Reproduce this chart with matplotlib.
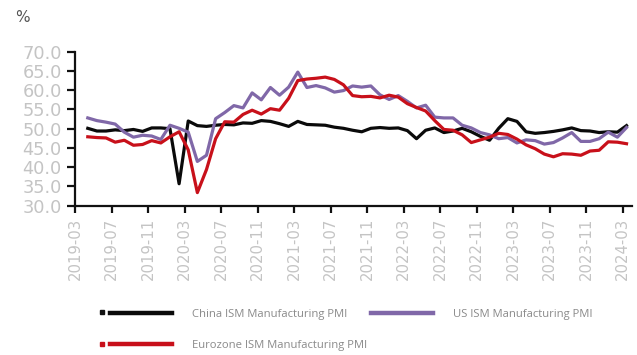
import matplotlib
matplotlib.use("Agg")
import matplotlib.pyplot as plt
import numpy as np
from matplotlib.lines import Line2D

# Months from 2019-04 to 2024-03
months = [f"{y}-{m:02d}" for y in range(2019, 2025) for m in range(1, 13)]
months = months[months.index("2019-04"):months.index("2024-03") + 1]

tick_labels = ["2019-03", "2019-07", "2019-11", "2020-03", "2020-07", "2020-11",
               "2021-03", "2021-07", "2021-11", "2022-03", "2022-07", "2022-11",
               "2023-03", "2023-07", "2023-11", "2024-03"]

china = [50.1, 49.4, 49.4, 49.7, 49.5, 49.8, 49.3, 50.2, 50.2,
         50.0, 35.7, 52.0, 50.8, 50.6, 50.9, 51.1, 51.0, 51.5, 51.4, 52.1, 51.9,
         51.3, 50.6, 51.9, 51.1, 51.0, 50.9, 50.4, 50.1, 49.6, 49.2, 50.1, 50.3,
         50.1, 50.2, 49.5, 47.4, 49.6, 50.2, 49.0, 49.4, 50.1, 49.2, 48.0, 47.0,
         50.1, 52.6, 51.9, 49.2, 48.8, 49.0, 49.3, 49.7, 50.2, 49.5, 49.4, 49.0,
         49.2, 49.1, 50.8]

us = [52.8, 52.1, 51.7, 51.2, 49.1, 47.8, 48.3, 48.1, 47.2,
      50.9, 50.1, 49.1, 41.5, 43.1, 52.6, 54.2, 56.0, 55.4, 59.3, 57.5, 60.7,
      58.7, 60.8, 64.7, 60.7, 61.2, 60.6, 59.5, 59.9, 61.1, 60.8, 61.1, 58.8,
      57.6, 58.6, 57.1, 55.4, 56.1, 53.0, 52.8, 52.8, 50.9, 50.2, 49.0, 48.4,
      47.4, 47.7, 46.3, 47.1, 46.9, 46.0, 46.4, 47.6, 49.0, 46.7, 46.7, 47.4,
      49.1, 47.8, 50.3]

euro = [47.9, 47.7, 47.6, 46.5, 47.0, 45.7, 45.9, 46.9, 46.3,
        47.9, 49.2, 44.5, 33.4, 39.4, 47.4, 51.8, 51.7, 53.7, 54.8, 53.8, 55.2,
        54.8, 57.9, 62.5, 62.9, 63.1, 63.4, 62.8, 61.4, 58.6, 58.3, 58.4, 58.0,
        58.7, 58.2, 56.5, 55.5, 54.6, 52.1, 49.8, 49.6, 48.4, 46.4, 47.1, 47.8,
        48.8, 48.5, 47.3, 45.8, 44.8, 43.4, 42.7, 43.5, 43.4, 43.1, 44.2, 44.4,
        46.6, 46.5, 46.1]

series_names = ["China ISM Manufacturing PMI", "US ISM Manufacturing PMI",
                "Eurozone ISM Manufacturing PMI"]

W, H = 637, 355
fig = plt.figure(figsize=(W / 100, H / 100), dpi=100)
ax_l, ax_r, ax_t, ax_b = 75, 632, 51.7, 205.7
ax = fig.add_axes([ax_l / W, 1 - ax_b / H, (ax_r - ax_l) / W, (ax_b - ax_t) / H])

x = np.arange(1, len(months) + 1) + 0.4
lc, = ax.plot(x, china, color="#0a0a0a", lw=2.3, solid_joinstyle="round")
lu, = ax.plot(x, us, color="#8068a8", lw=2.3, solid_joinstyle="round")
le, = ax.plot(x, euro, color="#c8101a", lw=2.3, solid_joinstyle="round")

ax.set_xlim(0, 61.0)
ax.set_ylim(30, 70)
ax.set_yticks(np.arange(30, 70.1, 5))
ax.set_yticklabels([f"{v:.1f}" for v in np.arange(30, 70.1, 5)])
ax.set_xticks(np.arange(0, 61, 4))
ax.set_xticklabels(tick_labels, rotation=90)

for s in ["top", "right"]:
    ax.spines[s].set_visible(False)
for s in ["left", "bottom"]:
    ax.spines[s].set_linewidth(1.6)
    ax.spines[s].set_color("#111111")

ax.tick_params(axis="y", direction="out", length=6, width=1.6, pad=3.5,
               labelsize=12.8, labelcolor="#c4c4c4", color="#111111")
ax.tick_params(axis="x", direction="out", length=5, width=1.6, pad=3.5,
               labelsize=10.7, labelcolor="#c4c4c4", color="#111111")

fig.text(22 / W, 1 - 17 / H, "%", fontsize=11, color="#555555",
         ha="center", va="center")

leg = fig.legend([lc, le, lu], [series_names[0], series_names[2], series_names[1]],
                 ncol=2, loc="upper left", bbox_to_anchor=(110 / W, 1 - 308.5 / H),
                 frameon=False, prop={"family": "Open Sans", "size": 8.1},
                 handlelength=5.5, handletextpad=1.8, columnspacing=0.3,
                 labelspacing=1.85, borderaxespad=0, borderpad=0)
for t in leg.get_texts():
    t.set_color("#8a8a8a")
for h in leg.legend_handles:
    h.set_linewidth(3.2)

# small marker dots to the left of the black and red legend lines
for yy, col in [(311.5, "#111111"), (344, "#c8101a")]:
    fig.add_artist(Line2D([102 / W], [1 - yy / H], marker="s", ms=2.2,
                          color=col, transform=fig.transFigure))

fig.savefig("out.png", dpi=100)
